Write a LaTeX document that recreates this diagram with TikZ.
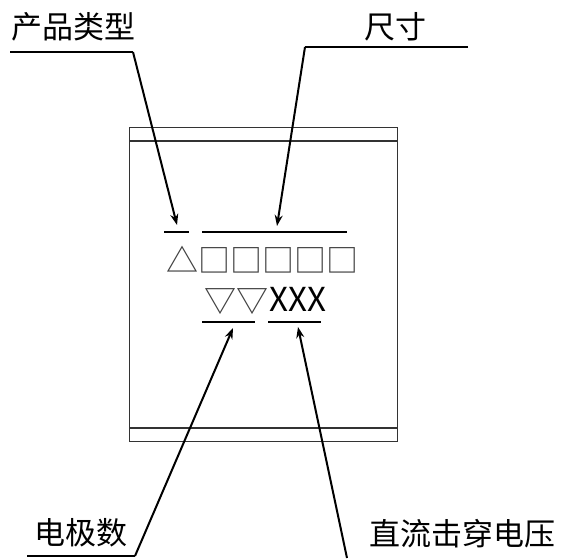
\documentclass[tikz,border=0pt]{standalone}
\usepackage{fontspec}
\setmainfont{Noto Sans CJK SC}
\usepackage{tikz}
\usetikzlibrary{arrows.meta}
\usetikzlibrary{positioning}

\begin{document}
\begin{tikzpicture}[x=1pt, y=-1pt, lbl/.style={inner sep=0pt, font=\fontsize{31}{31}\selectfont},
		symb/.style={inner sep=0pt, font=\fontsize{32}{32}\selectfont, text=black!75},
		lead/.style={line width=2pt, -{Stealth[length=11pt, width=8pt]}}, ul/.style={line width=1.5pt}]
	\useasboundingbox (0, 0) rectangle (571, 559);
	% the block
	\draw[line width=1pt, black!80] (129, 128) rectangle (397, 441);
	\draw[line width=1.2pt, black!80] (129, 141) to (397, 141);
	\draw[line width=1.2pt, black!80] (129, 428) to (397, 428);
	% labels
	\node[lbl] (type) at (74, 27) {产品类型};
	\node[lbl] (size) at (395, 27) {尺寸};
	\node[lbl] (poles) at (81, 533) {电极数};
	\node[lbl] (volt) at (462, 534) {直流击穿电压};
	\coordinate (type0) at (10, 52);
	\coordinate (type1) at (133, 52);
	\coordinate (size0) at (468, 47);
	\coordinate (size1) at (305, 47);
	\coordinate (poles0) at (27, 556);
	\coordinate (poles1) at (135, 556);
	\coordinate (volt1) at (347, 558);
	% marking
	\node[symb] (row1) at (262, 260) {△□□□□□};
	\node[symb] (tri) at (236, 302) {▽▽};
	\node[inner sep=0pt, font=\fontsize{33}{33}\selectfont] (xxx) at (298, 299) {XXX};
	\coordinate (a0) at (164, 232);
	\coordinate (a1) at (189, 232);
	\coordinate (b0) at (202, 232);
	\coordinate (b1) at (347, 232);
	\coordinate (c0) at (202, 322);
	\coordinate (c1) at (255, 322);
	\coordinate (d0) at (268, 322);
	\coordinate (d1) at (321, 322);
	\draw[ul] (a0) to (a1);
	\draw[ul] (b0) to (b1);
	\draw[ul] (c0) to (c1);
	\draw[ul] (d0) to (d1);
	% leaders
	\draw[ul] (type0) to (type1);
	\draw[lead] (type1) to (177, 225);
	\draw[ul] (size0) to (size1);
	\draw[lead] (size1) to (277, 226);
	\draw[ul] (poles0) to (poles1);
	\draw[lead] (poles1) to (233, 328);
	\draw[lead] (volt1) to (298, 327);
\end{tikzpicture}
\end{document}
